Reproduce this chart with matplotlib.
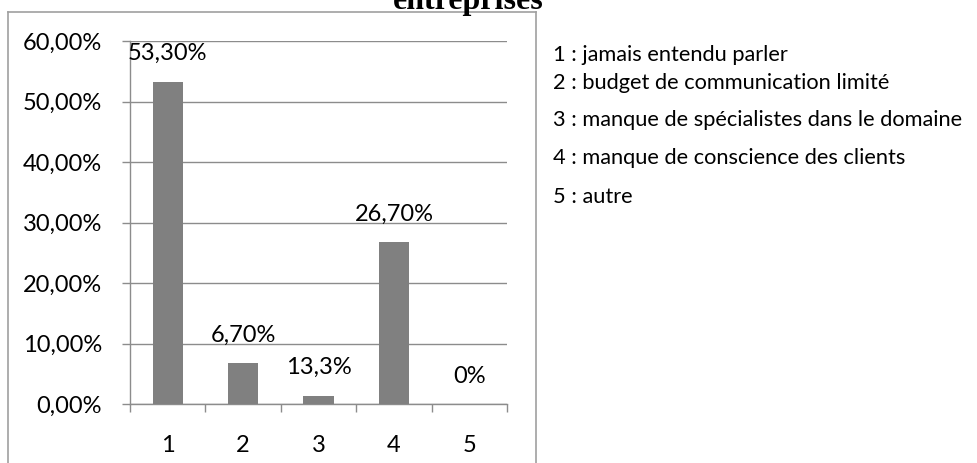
import matplotlib
matplotlib.use("Agg")
import matplotlib.pyplot as plt
from matplotlib.lines import Line2D

categories = ["1", "2", "3", "4", "5"]
values = [53.3, 6.7, 1.4, 26.7, 0.0]
bar_labels = ["53,30%", "6,70%", "13,3%", "26,70%", "0%"]
ytick_vals = [0, 10, 20, 30, 40, 50, 60]
ytick_labels = ["0,00%", "10,00%", "20,00%", "30,00%", "40,00%", "50,00%", "60,00%"]
legend_lines = ["1 : jamais entendu parler",
                "2 : budget de communication limité",
                "3 : manque de spécialistes dans le domaine",
                "4 : manque de conscience des clients",
                "5 : autre"]
title_text = "entreprises"

W, H = 977, 463
fig = plt.figure(figsize=(W / 100, H / 100), dpi=100)
fig.patch.set_facecolor("white")

def fx(px):
    return px / W

def fy(py):
    return 1 - py / H

grid_c = "#8c8c8c"
frame_c = "#a0a0a0"
font = "Lato"

# frame
fig.add_artist(Line2D([fx(7.5), fx(7.5)], [fy(12), fy(470)], color=frame_c, lw=1.2))
fig.add_artist(Line2D([fx(7.5), fx(536)], [fy(12), fy(12)], color=frame_c, lw=1.2))
fig.add_artist(Line2D([fx(536), fx(536)], [fy(12), fy(470)], color=frame_c, lw=1.2))

left, right, top, bottom = 130, 507, 41, 404
ax = fig.add_axes([fx(left), fy(bottom), fx(right - left), (bottom - top) / H])
x = list(range(len(categories)))
ax.bar(x, values, width=0.4, color="#808080", zorder=3)
ax.set_xlim(-0.5, len(categories) - 0.5)
ax.set_ylim(0, 60)

ax.set_yticks(ytick_vals)
ax.set_yticklabels(ytick_labels, fontname=font, fontsize=17)
ax.yaxis.grid(True, color=grid_c, lw=1.0, zorder=0)
ax.tick_params(axis="y", direction="out", length=6, width=1.0, color=grid_c, pad=14)

ax.set_xticks([i - 0.5 for i in range(len(categories) + 1)])
ax.set_xticklabels([])
ax.set_xticks(x, minor=True)
ax.set_xticklabels(categories, minor=True, fontname=font, fontsize=17)
ax.tick_params(axis="x", which="major", direction="out", length=6, width=1.0, color=grid_c)
ax.tick_params(axis="x", which="minor", length=0, pad=22)

for s in ["top", "right"]:
    ax.spines[s].set_visible(False)
for s in ["left", "bottom"]:
    ax.spines[s].set_color(grid_c)
    ax.spines[s].set_linewidth(1.0)

for xi, v, lab in zip(x, values, bar_labels):
    ax.annotate(lab, (xi, v), xytext=(0, 20), textcoords="offset points",
                ha="center", va="center", fontname=font, fontsize=17, zorder=5)

# legend text
leg_y = [55, 83, 120, 158, 197]
for ly, t in zip(leg_y, legend_lines):
    fig.text(fx(553), fy(ly), t, ha="left", va="center", fontname=font, fontsize=15.7)

# title (cut at top)
fig.text(fx(468), fy(9), title_text, ha="center", va="baseline",
         fontname="Liberation Serif", fontweight="bold", fontsize=23)

fig.savefig("out.png", dpi=100)
